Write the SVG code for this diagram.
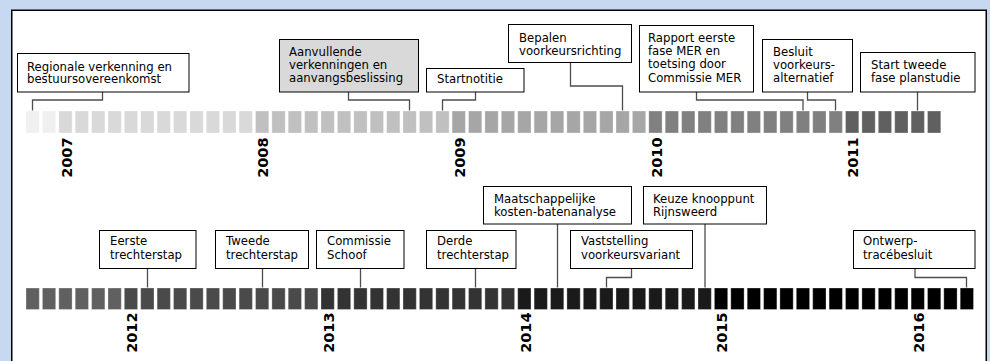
<svg xmlns="http://www.w3.org/2000/svg" width="990" height="361" viewBox="0 0 990 361">
  <style>
    .panel { fill: #ffffff; stroke: #000000; stroke-width: 1.5; }
    .box { fill: #ffffff; stroke: #000000; stroke-width: 1; }
    .box.hl { fill: #d9d9d9; }
    .lbl { font-family: "DejaVu Sans", Verdana, sans-serif; font-size: 11.7px; fill: #000000; }
    .yr { font-family: "DejaVu Sans", Verdana, sans-serif; font-size: 14.5px; font-weight: bold; fill: #000000; text-anchor: end; }
    .wire { fill: none; stroke: #4d4d4d; stroke-width: 1.3; }
    .m rect { stroke: #ffffff; stroke-opacity: 0.3; stroke-width: 1; }
    .c06 rect { fill: #f0f0f0; }
    .c07 rect { fill: #d9d9d9; }
    .c08 rect { fill: #c0c0c0; }
    .c09 rect { fill: #a6a6a6; }
    .c10 rect { fill: #808080; }
    .c11 rect { fill: #606060; }
    .c12 rect { fill: #4a4a4a; }
    .c13 rect { fill: #333333; }
    .c14 rect { fill: #1a1a1a; }
    .c15 rect { fill: #000000; }
  </style>

  <!-- background and frame -->
  <rect x="0" y="0" width="990" height="361" fill="#c6d9f1"/>
  <rect class="panel" x="11.75" y="10.25" width="974.5" height="360"/>

  <!-- month blocks, upper row (Nov 2006 - Jun 2011) -->
  <g id="months-top" class="m">
    <g class="c06">
      <rect x="26" y="111" width="13.3" height="22"/>
      <rect x="42.4" y="111" width="13.3" height="22"/>
    </g>
    <g class="c07">
      <rect x="58.8" y="111" width="13.3" height="22"/>
      <rect x="75.2" y="111" width="13.3" height="22"/>
      <rect x="91.6" y="111" width="13.3" height="22"/>
      <rect x="108" y="111" width="13.3" height="22"/>
      <rect x="124.3" y="111" width="13.3" height="22"/>
      <rect x="140.7" y="111" width="13.3" height="22"/>
      <rect x="157.1" y="111" width="13.3" height="22"/>
      <rect x="173.5" y="111" width="13.3" height="22"/>
      <rect x="189.9" y="111" width="13.3" height="22"/>
      <rect x="206.3" y="111" width="13.3" height="22"/>
      <rect x="222.7" y="111" width="13.3" height="22"/>
      <rect x="239.1" y="111" width="13.3" height="22"/>
    </g>
    <g class="c08">
      <rect x="255.5" y="111" width="13.3" height="22"/>
      <rect x="271.9" y="111" width="13.3" height="22"/>
      <rect x="288.2" y="111" width="13.3" height="22"/>
      <rect x="304.6" y="111" width="13.3" height="22"/>
      <rect x="321" y="111" width="13.3" height="22"/>
      <rect x="337.4" y="111" width="13.3" height="22"/>
      <rect x="353.8" y="111" width="13.3" height="22"/>
      <rect x="370.2" y="111" width="13.3" height="22"/>
      <rect x="386.6" y="111" width="13.3" height="22"/>
      <rect x="403" y="111" width="13.3" height="22"/>
      <rect x="419.4" y="111" width="13.3" height="22"/>
      <rect x="435.8" y="111" width="13.3" height="22"/>
    </g>
    <g class="c09">
      <rect x="452.1" y="111" width="13.3" height="22"/>
      <rect x="468.5" y="111" width="13.3" height="22"/>
      <rect x="484.9" y="111" width="13.3" height="22"/>
      <rect x="501.3" y="111" width="13.3" height="22"/>
      <rect x="517.7" y="111" width="13.3" height="22"/>
      <rect x="534.1" y="111" width="13.3" height="22"/>
      <rect x="550.5" y="111" width="13.3" height="22"/>
      <rect x="566.9" y="111" width="13.3" height="22"/>
      <rect x="583.3" y="111" width="13.3" height="22"/>
      <rect x="599.7" y="111" width="13.3" height="22"/>
      <rect x="616" y="111" width="13.3" height="22"/>
      <rect x="632.4" y="111" width="13.3" height="22"/>
    </g>
    <g class="c10">
      <rect x="648.8" y="111" width="13.3" height="22"/>
      <rect x="665.2" y="111" width="13.3" height="22"/>
      <rect x="681.6" y="111" width="13.3" height="22"/>
      <rect x="698" y="111" width="13.3" height="22"/>
      <rect x="714.4" y="111" width="13.3" height="22"/>
      <rect x="730.8" y="111" width="13.3" height="22"/>
      <rect x="747.2" y="111" width="13.3" height="22"/>
      <rect x="763.6" y="111" width="13.3" height="22"/>
      <rect x="779.9" y="111" width="13.3" height="22"/>
      <rect x="796.3" y="111" width="13.3" height="22"/>
      <rect x="812.7" y="111" width="13.3" height="22"/>
      <rect x="829.1" y="111" width="13.3" height="22"/>
    </g>
    <g class="c11">
      <rect x="845.5" y="111" width="13.3" height="22"/>
      <rect x="861.9" y="111" width="13.3" height="22"/>
      <rect x="878.3" y="111" width="13.3" height="22"/>
      <rect x="894.7" y="111" width="13.3" height="22"/>
      <rect x="911.1" y="111" width="13.3" height="22"/>
      <rect x="927.5" y="111" width="13.3" height="22"/>
    </g>
  </g>

  <!-- month blocks, lower row (Jul 2011 - Apr 2016) -->
  <g id="months-bottom" class="m">
    <g class="c11">
      <rect x="26" y="288" width="13.3" height="21.5"/>
      <rect x="42.4" y="288" width="13.3" height="21.5"/>
      <rect x="58.8" y="288" width="13.3" height="21.5"/>
      <rect x="75.2" y="288" width="13.3" height="21.5"/>
      <rect x="91.6" y="288" width="13.3" height="21.5"/>
      <rect x="108" y="288" width="13.3" height="21.5"/>
    </g>
    <g class="c12">
      <rect x="124.3" y="288" width="13.3" height="21.5"/>
      <rect x="140.7" y="288" width="13.3" height="21.5"/>
      <rect x="157.1" y="288" width="13.3" height="21.5"/>
      <rect x="173.5" y="288" width="13.3" height="21.5"/>
      <rect x="189.9" y="288" width="13.3" height="21.5"/>
      <rect x="206.3" y="288" width="13.3" height="21.5"/>
      <rect x="222.7" y="288" width="13.3" height="21.5"/>
      <rect x="239.1" y="288" width="13.3" height="21.5"/>
      <rect x="255.5" y="288" width="13.3" height="21.5"/>
      <rect x="271.9" y="288" width="13.3" height="21.5"/>
      <rect x="288.2" y="288" width="13.3" height="21.5"/>
      <rect x="304.6" y="288" width="13.3" height="21.5"/>
    </g>
    <g class="c13">
      <rect x="321" y="288" width="13.3" height="21.5"/>
      <rect x="337.4" y="288" width="13.3" height="21.5"/>
      <rect x="353.8" y="288" width="13.3" height="21.5"/>
      <rect x="370.2" y="288" width="13.3" height="21.5"/>
      <rect x="386.6" y="288" width="13.3" height="21.5"/>
      <rect x="403" y="288" width="13.3" height="21.5"/>
      <rect x="419.4" y="288" width="13.3" height="21.5"/>
      <rect x="435.8" y="288" width="13.3" height="21.5"/>
      <rect x="452.1" y="288" width="13.3" height="21.5"/>
      <rect x="468.5" y="288" width="13.3" height="21.5"/>
      <rect x="484.9" y="288" width="13.3" height="21.5"/>
      <rect x="501.3" y="288" width="13.3" height="21.5"/>
    </g>
    <g class="c14">
      <rect x="517.7" y="288" width="13.3" height="21.5"/>
      <rect x="534.1" y="288" width="13.3" height="21.5"/>
      <rect x="550.5" y="288" width="13.3" height="21.5"/>
      <rect x="566.9" y="288" width="13.3" height="21.5"/>
      <rect x="583.3" y="288" width="13.3" height="21.5"/>
      <rect x="599.7" y="288" width="13.3" height="21.5"/>
      <rect x="616" y="288" width="13.3" height="21.5"/>
      <rect x="632.4" y="288" width="13.3" height="21.5"/>
      <rect x="648.8" y="288" width="13.3" height="21.5"/>
      <rect x="665.2" y="288" width="13.3" height="21.5"/>
      <rect x="681.6" y="288" width="13.3" height="21.5"/>
      <rect x="698" y="288" width="13.3" height="21.5"/>
    </g>
    <g class="c15">
      <rect x="714.4" y="288" width="13.3" height="21.5"/>
      <rect x="730.8" y="288" width="13.3" height="21.5"/>
      <rect x="747.2" y="288" width="13.3" height="21.5"/>
      <rect x="763.6" y="288" width="13.3" height="21.5"/>
      <rect x="779.9" y="288" width="13.3" height="21.5"/>
      <rect x="796.3" y="288" width="13.3" height="21.5"/>
      <rect x="812.7" y="288" width="13.3" height="21.5"/>
      <rect x="829.1" y="288" width="13.3" height="21.5"/>
      <rect x="845.5" y="288" width="13.3" height="21.5"/>
      <rect x="861.9" y="288" width="13.3" height="21.5"/>
      <rect x="878.3" y="288" width="13.3" height="21.5"/>
      <rect x="894.7" y="288" width="13.3" height="21.5"/>
      <rect x="911.1" y="288" width="13.3" height="21.5"/>
      <rect x="927.5" y="288" width="13.3" height="21.5"/>
      <rect x="943.8" y="288" width="13.3" height="21.5"/>
      <rect x="960.2" y="288" width="13.3" height="21.5"/>
    </g>
  </g>

  <!-- year labels, each on the January block -->
  <g id="years">
    <text class="yr" transform="translate(71.6,137.5) rotate(-90)">2007</text>
    <text class="yr" transform="translate(268.3,137.5) rotate(-90)">2008</text>
    <text class="yr" transform="translate(464.9,137.5) rotate(-90)">2009</text>
    <text class="yr" transform="translate(661.6,137.5) rotate(-90)">2010</text>
    <text class="yr" transform="translate(858.3,137.5) rotate(-90)">2011</text>
    <text class="yr" transform="translate(137.1,312.5) rotate(-90)">2012</text>
    <text class="yr" transform="translate(333.8,312.5) rotate(-90)">2013</text>
    <text class="yr" transform="translate(530.5,312.5) rotate(-90)">2014</text>
    <text class="yr" transform="translate(727.2,312.5) rotate(-90)">2015</text>
    <text class="yr" transform="translate(923.9,312.5) rotate(-90)">2016</text>
  </g>

  <!-- leader lines from the milestone boxes to their months -->
  <g id="connectors">
    <polyline class="wire" points="102.5,92 102.5,100 32.5,100 32.5,110.5"/>
    <polyline class="wire" points="348.5,92 348.5,100 409.5,100 409.5,110.5"/>
    <polyline class="wire" points="475.5,92 475.5,100 442.5,100 442.5,110.5"/>
    <polyline class="wire" points="570.5,62.5 570.5,86 622.5,86 622.5,110.5"/>
    <polyline class="wire" points="696.5,92 696.5,100 803,100 803,110.5"/>
    <polyline class="wire" points="807.5,92 807.5,100 835.5,100 835.5,110.5"/>
    <polyline class="wire" points="917.5,92 917.5,110.5"/>
    <polyline class="wire" points="147.5,268.5 147.5,287.5"/>
    <polyline class="wire" points="262.5,268.5 262.5,287.5"/>
    <polyline class="wire" points="360.5,268.5 360.5,287.5"/>
    <polyline class="wire" points="475.5,268.5 475.5,287.5"/>
    <polyline class="wire" points="557.5,224 557.5,287.5"/>
    <polyline class="wire" points="631.5,268.5 631.5,277.5 606.5,277.5 606.5,287.5"/>
    <polyline class="wire" points="705,224 705,287.5"/>
    <polyline class="wire" points="915,268.5 915,277.5 966.5,277.5 966.5,287.5"/>
  </g>

  <!-- milestones -->
  <g id="regionale-verkenning">
    <rect class="box" x="17.5" y="53.5" width="171.5" height="38.5"/>
    <text class="lbl" x="27" y="70.5">Regionale verkenning en</text>
    <text class="lbl" x="27" y="83">bestuursovereenkomst</text>
  </g>
  <g id="aanvullende-verkenningen">
    <rect class="box hl" x="279.5" y="39.5" width="139" height="52.5"/>
    <text class="lbl" x="289" y="56">Aanvullende</text>
    <text class="lbl" x="289" y="68.7">verkenningen en</text>
    <text class="lbl" x="289" y="81.5">aanvangsbeslissing</text>
  </g>
  <g id="startnotitie">
    <rect class="box" x="426.5" y="68.5" width="97.5" height="23.5"/>
    <text class="lbl" x="437" y="83">Startnotitie</text>
  </g>
  <g id="voorkeursrichting">
    <rect class="box" x="508.5" y="24.5" width="123" height="38"/>
    <text class="lbl" x="519" y="41.5">Bepalen</text>
    <text class="lbl" x="519" y="54.5">voorkeursrichting</text>
  </g>
  <g id="rapport-mer">
    <rect class="box" x="639.5" y="25.5" width="114" height="66.5"/>
    <text class="lbl" x="648" y="41.5">Rapport eerste</text>
    <text class="lbl" x="648" y="54.8">fase MER en</text>
    <text class="lbl" x="648" y="68.2">toetsing door</text>
    <text class="lbl" x="648" y="81.5">Commissie MER</text>
  </g>
  <g id="besluit-voorkeursalternatief">
    <rect class="box" x="762.5" y="39.5" width="90" height="52.5"/>
    <text class="lbl" x="773" y="56.3">Besluit</text>
    <text class="lbl" x="773" y="68.8">voorkeurs-</text>
    <text class="lbl" x="773" y="81.5">alternatief</text>
  </g>
  <g id="tweede-fase">
    <rect class="box" x="860.5" y="52.5" width="114.5" height="39.5"/>
    <text class="lbl" x="871" y="68.5">Start tweede</text>
    <text class="lbl" x="871" y="81.5">fase planstudie</text>
  </g>

  <g id="eerste-trechterstap">
    <rect class="box" x="99.5" y="230.5" width="96.5" height="38"/>
    <text class="lbl" x="110" y="245">Eerste</text>
    <text class="lbl" x="110" y="258.5">trechterstap</text>
  </g>
  <g id="tweede-trechterstap">
    <rect class="box" x="215.5" y="230.5" width="93" height="38"/>
    <text class="lbl" x="226" y="245">Tweede</text>
    <text class="lbl" x="226" y="258.5">trechterstap</text>
  </g>
  <g id="commissie-schoof">
    <rect class="box" x="316.5" y="230.5" width="87.5" height="38"/>
    <text class="lbl" x="327" y="245">Commissie</text>
    <text class="lbl" x="327" y="258.5">Schoof</text>
  </g>
  <g id="derde-trechterstap">
    <rect class="box" x="426.5" y="230.5" width="89.5" height="38"/>
    <text class="lbl" x="437" y="245">Derde</text>
    <text class="lbl" x="437" y="258.5">trechterstap</text>
  </g>
  <g id="mkba">
    <rect class="box" x="483.5" y="186.5" width="148" height="37.5"/>
    <text class="lbl" x="494" y="202.5">Maatschappelijke</text>
    <text class="lbl" x="494" y="216">kosten-batenanalyse</text>
  </g>
  <g id="voorkeursvariant">
    <rect class="box" x="570.5" y="230.5" width="122" height="38"/>
    <text class="lbl" x="581" y="245">Vaststelling</text>
    <text class="lbl" x="581" y="258.5">voorkeursvariant</text>
  </g>
  <g id="knooppunt-rijnsweerd">
    <rect class="box" x="643.5" y="186.5" width="123" height="37.5"/>
    <text class="lbl" x="653" y="202.5">Keuze knooppunt</text>
    <text class="lbl" x="653" y="216">Rijnsweerd</text>
  </g>
  <g id="ontwerp-tracebesluit">
    <rect class="box" x="853.5" y="230.5" width="121.5" height="38"/>
    <text class="lbl" x="863" y="245">Ontwerp-</text>
    <text class="lbl" x="863" y="258.5">tracébesluit</text>
  </g>
</svg>
